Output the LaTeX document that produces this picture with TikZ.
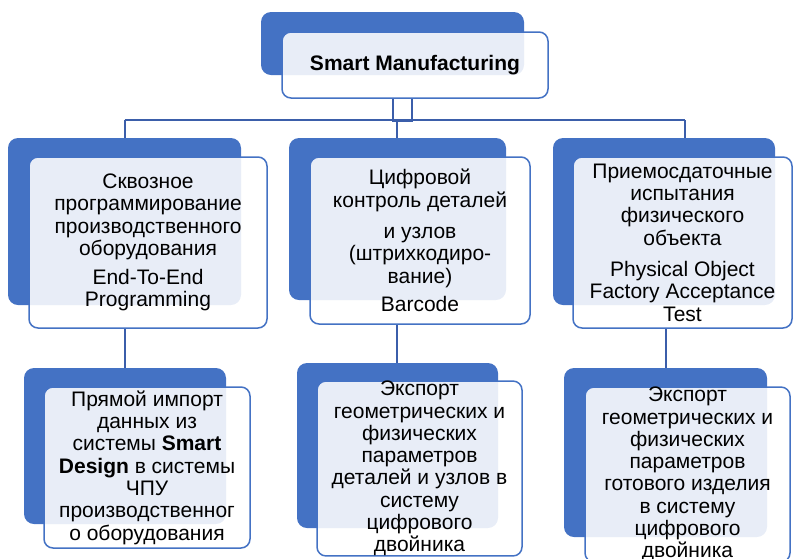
\documentclass[tikz,border=0pt]{standalone}
\usepackage{fontspec}
\setmainfont{Liberation Sans}
\usetikzlibrary{positioning, backgrounds}
\definecolor{smblue}{HTML}{4472C4}
\definecolor{linkblue}{RGB}{59,94,170}

\begin{document}
\begin{tikzpicture}[x=1pt,y=-1pt,
        back/.style={fill=smblue,rounded corners=10pt,inner sep=0pt},
        card/.style={draw=smblue,line width=1.5pt,fill=white,fill opacity=0.88,
          text opacity=1,rounded corners=9pt,inner sep=0pt,align=center,
          font=\fontsize{21}{22.3}\selectfont},
        link/.style={draw=linkblue,line width=2pt}]
      \useasboundingbox (0,0) rectangle (793,558);
      % top
      \node[back,minimum width=263pt,minimum height=63pt] (backtop) at (392.5,43.5) {};
      \node[card,minimum width=266pt,minimum height=66pt] (smart) at (415,65)
        {\bfseries Smart Manufacturing};
      % first level
      \node[back,minimum width=233pt,minimum height=167pt] (back1) at (124.5,221.5) {};
      \node[card,minimum width=238pt,minimum height=171pt] (card1) at (148,242.5)
        {Сквозное\\программирование\\производственного\\оборудования\\[7pt]End-To-End\\Programming};
      \node[back,minimum width=217pt,minimum height=162pt] (back2) at (397.5,219) {};
      \node[card,minimum width=220pt,minimum height=167pt] (card2) at (420,240.5)
        {Цифровой\\контроль деталей\\[9pt]и узлов\\(штрихкодиро-\\вание)\\[6pt]Barcode};
      \node[back,minimum width=222pt,minimum height=167pt] (back3) at (664,221.5) {};
      \node[card,minimum width=219pt,minimum height=171pt] (card3) at (682.5,242.5)
        {Приемосдаточные\\испытания\\физического\\объекта\\[9pt]Physical Object\\Factory Acceptance\\Test};
      % second level
      \node[back,minimum width=202pt,minimum height=156pt] (back4) at (125,446) {};
      \node[card,minimum width=206pt,minimum height=161pt] (card4) at (147,467.5)
        {Прямой импорт\\данных из\\системы \textbf{Smart}\\\textbf{Design} в системы\\ЧПУ\\производственног\\о оборудования};
      \node[back,minimum width=201pt,minimum height=165pt] (back5) at (397.5,445.5) {};
      \node[card,minimum width=205pt,minimum height=171pt] (card5) at (419.5,468.5)
        {Экспорт\\геометрических и\\физических\\параметров\\деталей и узлов в\\систему\\цифрового\\двойника};
      \node[back,minimum width=203pt,minimum height=169pt] (back6) at (665.5,452.5) {};
      \node[card,minimum width=205pt,minimum height=171pt] (card6) at (687.5,474.5)
        {Экспорт\\геометрических и\\физических\\параметров\\готового изделия\\в систему\\цифрового\\двойника};
      % connectors
      \coordinate (busL) at (124.5,120);
      \coordinate (busM) at (397,120);
      \coordinate (busR) at (685,120);
      \begin{scope}[on background layer]
        \draw[link] ([xshift=-22pt]smart.south) -- ++(0,22) -| ([xshift=-3pt]smart.south);
        \draw[link] (busL) -- (busR);
        \draw[link] (busL) -- (busL |- back1.north);
        \draw[link] (busM) -- (busM |- back2.north);
        \draw[link] (busR) -- (busR |- back3.north);
        \draw[link] (back4.north |- card1.south) -- (back4.north);
        \draw[link] (busM |- card2.south) -- (busM |- back5.north);
        \draw[link] (back6.north |- card3.south) -- (back6.north);
      \end{scope}
    \end{tikzpicture}
\end{document}
